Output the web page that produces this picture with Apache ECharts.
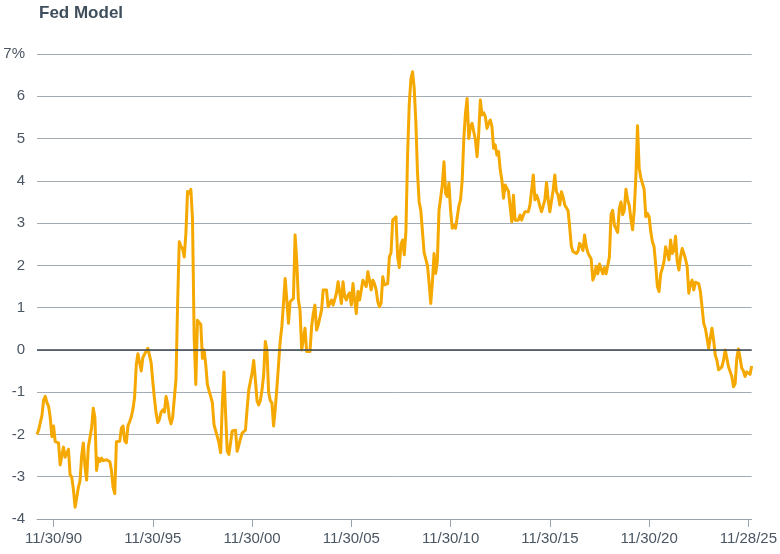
<!DOCTYPE html>
<html>
<head>
<meta charset="utf-8">
<script src="https://cdn.jsdelivr.net/npm/echarts@6/dist/echarts.min.js"></script>
<style>
html,body{margin:0;padding:0;background:#fff;}
#chart{width:780px;height:554px;}
</style>
</head>
<body>
<div id="chart"></div>
<script>
// Fed Model spread (%), monthly, Jan 1990 onward
var fed1990s = [
 -2.0,-1.89,-1.88,-1.55,-1.18,-1.10,-1.25,-1.33,-1.6,-2.05,
 -1.80,-2.17,-2.13,-2.2,-2.72,-2.75,-2.30,-2.54,-2.52,-2.35,
 -2.95,-3.01,-3.3,-3.72,-3.5,-3.25,-3.1,-2.5,-2.2,-2.75,
 -3.08,-2.3,-2.08,-1.85,-1.38,-1.6,-2.85,-2.56,-2.64,-2.56,
 -2.62,-2.59,-2.6,-2.62,-2.64,-2.85,-3.25,-3.4,-2.17,-2.18,
 -2.16,-1.85,-1.8,-2.15,-2.2,-1.79,-1.7,-1.58,-1.40,-1.12,
 -0.35,-0.09,-0.3,-0.5,-0.18,-0.15,-0.03,0.04,0.05,-0.3,
 -0.75,-1.15,-1.5,-1.72,-1.64,-1.47,-1.42,-1.47,-1.1,-1.28,
 -1.6,-1.75,-1.6,-1.58,-0.7,1.1,2.56,2.45,2.4,2.2,
 2.75,3.75,3.7,3.8,3.1,0.3,-0.82,0.7,0.68,0.6,
 -0.2,0.0,-0.35,-0.82,-0.97,-1.1,-1.25,-1.77,-1.8,-2.05,
 -2.2,-2.43,-1.3,-0.52,-1.5,-2.4,-2.47,-2.2,-1.92,-1.88
];
var fed2000s = [
 -1.9,-2.4,-2.25,-2.1,-1.97,-1.93,-1.9,-1.4,-0.95,-0.92,
 -0.55,-0.25,-0.7,-1.2,-1.3,-1.2,-0.95,-0.6,0.2,0.0,
 -1.0,-1.2,-1.25,-1.8,-1.4,-0.9,-0.35,0.2,0.55,1.1,
 1.69,1.18,0.63,1.14,1.14,1.22,2.72,2.12,1.18,0.94,
 0.0,-0.04,0.51,-0.04,0.0,-0.04,0.55,0.86,1.06,0.47,
 0.59,0.59,0.94,1.42,1.42,1.42,1.02,0.98,1.18,1.06,
 1.02,1.34,1.61,1.65,1.10,1.61,1.26,1.18,1.30,1.35,
 1.06,1.57,1.18,0.86,1.38,1.18,1.22,1.65,1.65,1.50,
 1.85,1.65,1.42,1.65,1.57,1.42,1.14,1.02,1.10,1.73,
 1.54,1.50,1.57,2.2,2.3,3.07,3.1,3.15,2.2,1.95,
 2.5,2.6,2.25,2.8,4.6,5.8,6.4,6.58,6.2,5.4,
 4.2,3.5,3.3,2.8,2.3,2.27,2.0,1.6,1.1,1.6
];
var fed2010s = [
 2.28,1.81,2.1,3.3,3.3,3.9,4.45,3.7,3.63,3.95,
 3.3,2.88,2.95,2.88,2.9,3.4,3.55,4.0,5.0,5.6,
 5.95,5.0,5.28,5.36,5.16,4.97,4.57,5.12,5.91,5.56,
 5.61,5.52,5.24,5.36,5.44,5.28,4.77,4.85,4.61,4.69,
 4.26,4.02,3.59,3.9,3.9,3.75,3.39,3.03,3.66,3.07,
 3.11,3.07,3.19,3.07,3.19,3.27,3.23,3.27,3.43,3.47,
 4.14,3.55,3.66,3.55,3.39,3.27,3.31,3.55,3.96,3.55,
 3.27,3.27,3.78,4.14,3.74,3.66,3.43,3.74,3.62,3.43,
 3.39,3.3,2.9,2.45,2.33,2.29,2.28,2.33,2.52,2.46,
 2.35,2.72,2.45,2.3,2.22,2.15,1.65,1.77,1.98,1.8,
 2.03,2.06,1.8,1.95,1.8,1.78,2.2,3.2,3.3,2.95,
 2.95,2.78,3.35,3.5,3.2,3.3,3.8,3.55,3.42,3.1
];
var fed2020s = [
 2.84,3.3,4.1,5.3,4.3,4.07,4.03,3.8,3.15,3.23,
 3.15,2.8,2.56,2.44,2.01,1.5,1.38,1.8,1.93,2.09,
 2.44,2.4,2.13,2.6,2.28,2.35,2.69,2.09,1.89,2.2,
 2.4,2.28,2.15,1.97,1.34,1.57,1.65,1.42,1.6,1.61,
 1.57,1.38,1.02,0.63,0.51,0.28,0.04,0.28,0.51,0.23,
 -0.12,-0.25,-0.47,-0.43,-0.4,-0.24,0.0,0.0,-0.4,-0.44,
 -0.63,-0.87,-0.8,-0.2,0.02,-0.2,-0.43,-0.5,-0.63,-0.52,
 -0.55,-0.58,-0.38
];
var tickLabels = ['11/30/90','11/30/95','11/30/00','11/30/05','11/30/10','11/30/15','11/30/20','11/28/25'];
var tickYears = [1990,1995,2000,2005,2010,2015,2020,2025];

var values = fed1990s.concat(fed2000s, fed2010s, fed2020s);
var startYear = 1990;
var cats = [];
for (var i = 0; i < values.length; i++) {
  var y = startYear + Math.floor(i / 12), mo = i % 12 + 1;
  cats.push(mo + '/' + y);
}
var tickIdx = {};
tickYears.forEach(function (yr, k) { tickIdx[(yr - startYear) * 12 + 10] = tickLabels[k]; });

var chart = echarts.init(document.getElementById('chart'), null, {renderer: 'canvas'});
chart.setOption({
  animation: false,
  backgroundColor: '#ffffff',
  title: {
    text: 'Fed Model', left: 34, top: 0,
    textStyle: {fontFamily: 'Liberation Sans', fontSize: 17, fontWeight: 'bold', color: '#3f4e5c'}
  },
  grid: {left: 37, right: 24, top: 54, bottom: 35, containLabel: false},
  xAxis: {
    type: 'category', data: cats, boundaryGap: false,
    axisLine: {show: true, onZero: false, lineStyle: {color: '#9aa3ab', width: 1}},
    axisTick: {show: true, length: 8, interval: function (i) { return tickIdx[i] !== undefined; }, lineStyle: {color: '#9aa3ab'}},
    axisLabel: {
      interval: function (i) { return tickIdx[i] !== undefined; },
      formatter: function (v, i) { return tickIdx[i] || ''; },
      color: '#4a5663', fontFamily: 'Liberation Sans', fontSize: 15, margin: 12
    },
    splitLine: {show: false}
  },
  yAxis: {
    type: 'value', min: -4, max: 7, interval: 1,
    axisLine: {show: false}, axisTick: {show: false},
    axisLabel: {
      formatter: function (v) { return v === 7 ? '7%' : String(v); },
      color: '#4a5663', fontFamily: 'Liberation Sans', fontSize: 15, margin: 12
    },
    splitLine: {show: true, lineStyle: {color: '#a3abb3', width: 1}}
  },
  series: [{
    type: 'line', data: values, showSymbol: false, symbol: 'none',
    lineStyle: {color: '#f5a800', width: 3, join: 'round'},
    itemStyle: {color: '#f5a800'},
    z: 3,
    markLine: {
      silent: true, symbol: 'none', label: {show: false},
      lineStyle: {color: '#3b4752', width: 1.6, type: 'solid'},
      data: [{yAxis: 0}]
    }
  }]
});
</script>
</body>
</html>
